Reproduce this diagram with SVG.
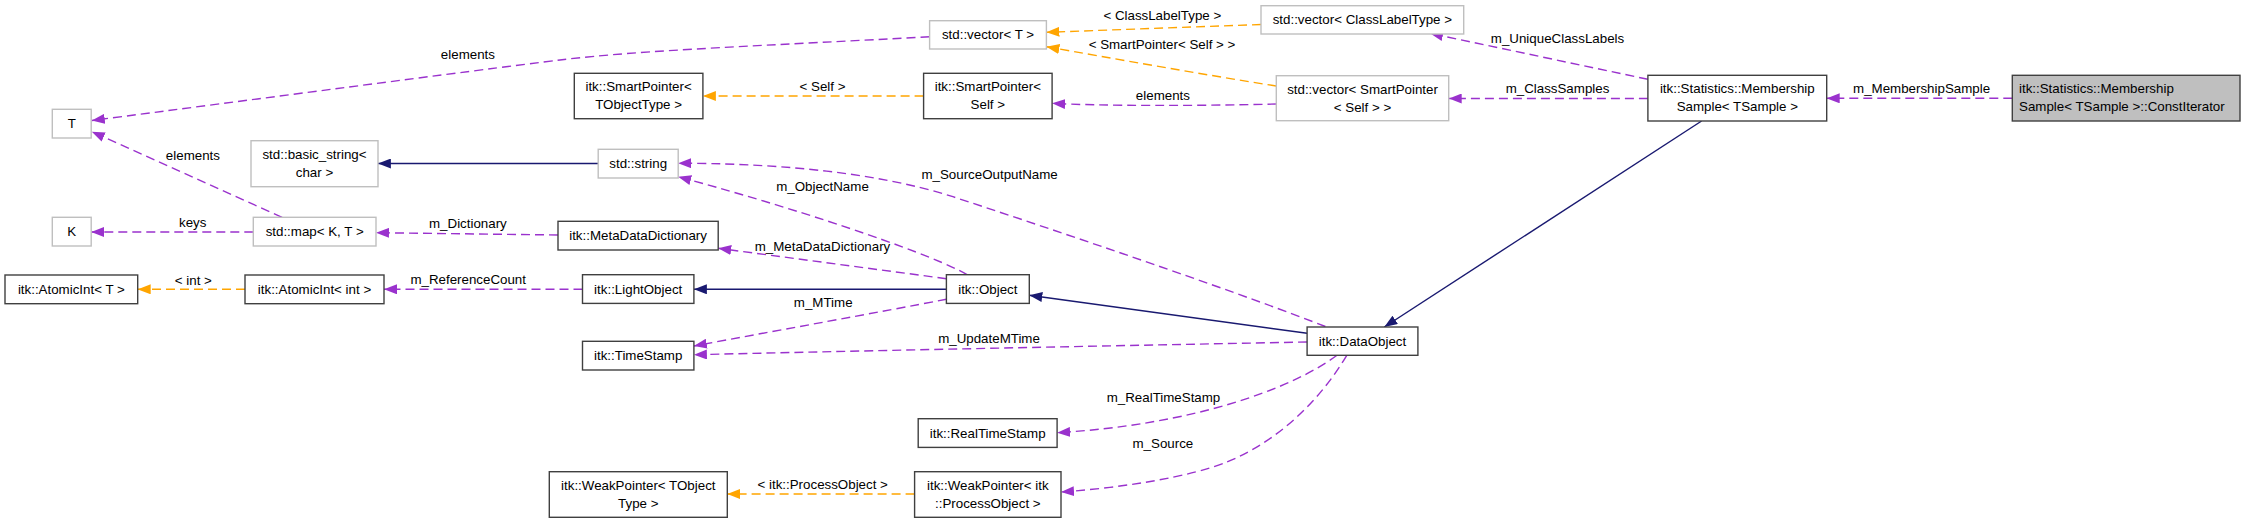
<svg xmlns="http://www.w3.org/2000/svg" width="2245" height="523" viewBox="0 0 2245 523">
<defs>
<style>
text { font-family: "Liberation Sans", Arial, Helvetica, sans-serif; font-size: 13.33px; fill: #000; }
.c { text-anchor: middle; }
.l { text-anchor: start; }
.doc { fill: #fff; stroke: #404040; stroke-width: 1.4; }
.undoc { fill: #fff; stroke: #bfbfbf; stroke-width: 1.4; }
.root { fill: #bfbfbf; stroke: #404040; stroke-width: 1.4; }
.use { fill: none; stroke: #9a32cd; stroke-width: 1.4; stroke-dasharray: 9,5; marker-end: url(#aU); }
.tpl { fill: none; stroke: #ffa500; stroke-width: 1.4; stroke-dasharray: 9,5; marker-end: url(#aT); }
.inh { fill: none; stroke: #191970; stroke-width: 1.4; marker-end: url(#aI); }
</style>
<marker id="aU" markerUnits="userSpaceOnUse" viewBox="0 0 13 10" refX="13" refY="5" markerWidth="13" markerHeight="10" orient="auto"><path d="M0,0 L13,5 L0,10 Z" fill="#9a32cd"/></marker>
<marker id="aT" markerUnits="userSpaceOnUse" viewBox="0 0 13 10" refX="13" refY="5" markerWidth="13" markerHeight="10" orient="auto"><path d="M0,0 L13,5 L0,10 Z" fill="#ffa500"/></marker>
<marker id="aI" markerUnits="userSpaceOnUse" viewBox="0 0 13 10" refX="13" refY="5" markerWidth="13" markerHeight="10" orient="auto"><path d="M0,0 L13,5 L0,10 Z" fill="#191970"/></marker>
</defs>
<rect x="0" y="0" width="2245" height="523" fill="#fff"/>

<g id="connectors">
  <path class="use" d="M929.6,36.7 C780,45 640,50 560,60 C470,71 250,100 91.8,120.5"/>
  <text class="c" x="467.9" y="58.8">elements</text>

  <path class="use" d="M282.1,217.3 L91.8,131.7"/>
  <text class="c" x="192.9" y="160.2">elements</text>

  <path class="use" d="M253.3,232 L91.2,232"/>
  <text class="c" x="192.7" y="227.2">keys</text>

  <path class="inh" d="M598.2,163.5 L377.9,163.5"/>

  <path class="use" d="M558,235 L376,232.7"/>
  <text class="c" x="467.9" y="227.8">m_Dictionary</text>

  <path class="tpl" d="M1261,24.5 L1046.4,32.3"/>
  <text class="c" x="1162.3" y="20.2">&lt; ClassLabelType &gt;</text>

  <path class="tpl" d="M1276.3,86 C1200,74 1110,58 1046.4,46.7"/>
  <text class="c" x="1162" y="48.8">&lt; SmartPointer&lt; Self &gt; &gt;</text>

  <path class="tpl" d="M923.6,96 L702.9,96"/>
  <text class="c" x="822.5" y="91.2">&lt; Self &gt;</text>

  <path class="use" d="M1276.3,104 C1200,106 1100,106 1052.1,103.3"/>
  <text class="c" x="1162.9" y="100.2">elements</text>

  <path class="use" d="M1647.9,79.3 L1430,33.3"/>
  <text class="c" x="1557.5" y="43.2">m_UniqueClassLabels</text>

  <path class="use" d="M1647.9,98.5 L1448.7,98.5"/>
  <text class="c" x="1557.5" y="93.2">m_ClassSamples</text>

  <path class="use" d="M2012.3,98.3 L1826.7,98.3"/>
  <text class="c" x="1921.6" y="93.2">m_MembershipSample</text>

  <path class="inh" d="M1701.6,121 L1384.3,327"/>

  <path class="inh" d="M1307.1,333.3 L1029.3,295.3"/>

  <path class="inh" d="M946.4,289.3 L693.9,289.3"/>

  <path class="use" d="M582.5,289.3 L384,289.3"/>
  <text class="c" x="468.2" y="283.8">m_ReferenceCount</text>

  <path class="tpl" d="M245,289.3 L137.7,289.3"/>
  <text class="c" x="193.3" y="284.5">&lt; int &gt;</text>

  <path class="use" d="M967,274.7 C940,258 820,215 678.2,176.7"/>
  <text class="c" x="822.5" y="191.2">m_ObjectName</text>

  <path class="use" d="M946.4,278.7 L718.2,248.3"/>
  <text class="c" x="822.5" y="251.2">m_MetaDataDictionary</text>

  <path class="use" d="M1325.4,326.5 C1250,297 1100,245 952.9,196.7 C870,170 760,163 678.2,163.3"/>
  <text class="c" x="989.6" y="179.2">m_SourceOutputName</text>

  <path class="use" d="M946.4,299.3 C880,312 780,330 693.9,346"/>
  <text class="c" x="823.2" y="307.2">m_MTime</text>

  <path class="use" d="M1307.1,342 C1100,346 900,350 693.9,354.7"/>
  <text class="c" x="989" y="343.2">m_UpdateMTime</text>

  <path class="use" d="M1337,355.3 C1290,390 1190,425 1057.1,432.7"/>
  <text class="c" x="1163.5" y="401.5">m_RealTimeStamp</text>

  <path class="use" d="M1346.8,355.3 C1320,400 1280,440 1227,462 C1190,477 1120,488 1061,492"/>
  <text class="c" x="1162.9" y="448.2">m_Source</text>

  <path class="tpl" d="M914.6,494 L727.3,494"/>
  <text class="c" x="822.7" y="488.8">&lt; itk::ProcessObject &gt;</text>
</g>

<g id="n_T"><rect class="undoc" x="52.3" y="109.3" width="38.9" height="28.7"/><text class="c" x="71.75" y="128.25">T</text></g>
<g id="n_K"><rect class="undoc" x="52.3" y="217.3" width="38.9" height="28.7"/><text class="c" x="71.75" y="236.25">K</text></g>
<g id="n_basic_string"><rect class="undoc" x="251" y="140.7" width="127" height="46"/><text class="c" x="314.5" y="158.9">std::basic_string&lt;</text><text class="c" x="314.5" y="176.9">char &gt;</text></g>
<g id="n_map"><rect class="undoc" x="253.3" y="217.3" width="122.7" height="28.7"/><text class="c" x="314.65" y="236.25">std::map&lt; K, T &gt;</text></g>
<g id="n_atomicT"><rect class="doc" x="5" y="275" width="132.7" height="28.7"/><text class="c" x="71.35" y="293.95">itk::AtomicInt&lt; T &gt;</text></g>
<g id="n_atomicInt"><rect class="doc" x="245" y="275" width="139" height="28.7"/><text class="c" x="314.5" y="293.95">itk::AtomicInt&lt; int &gt;</text></g>
<g id="n_vectorT"><rect class="undoc" x="929.6" y="20.7" width="116.8" height="28.3"/><text class="c" x="988" y="39.45">std::vector&lt; T &gt;</text></g>
<g id="n_spTObjectType"><rect class="doc" x="574.3" y="73.3" width="128.6" height="45.4"/><text class="c" x="638.6" y="91.3">itk::SmartPointer&lt;</text><text class="c" x="638.6" y="109.3">TObjectType &gt;</text></g>
<g id="n_spSelf"><rect class="doc" x="923.6" y="73.3" width="128.5" height="45.4"/><text class="c" x="987.85" y="91.3">itk::SmartPointer&lt;</text><text class="c" x="987.85" y="109.3">Self &gt;</text></g>
<g id="n_string"><rect class="undoc" x="598.2" y="149.3" width="80" height="28.7"/><text class="c" x="638.2" y="168.25">std::string</text></g>
<g id="n_metadatadict"><rect class="doc" x="558" y="221.3" width="160.2" height="28.7"/><text class="c" x="638.1" y="240.25">itk::MetaDataDictionary</text></g>
<g id="n_lightobject"><rect class="doc" x="582.5" y="274.7" width="111.4" height="28.7"/><text class="c" x="638.2" y="293.65">itk::LightObject</text></g>
<g id="n_object"><rect class="doc" x="946.4" y="274.7" width="82.9" height="28.7"/><text class="c" x="987.85" y="293.65">itk::Object</text></g>
<g id="n_timestamp"><rect class="doc" x="582.5" y="341.3" width="111.4" height="28.7"/><text class="c" x="638.2" y="360.25">itk::TimeStamp</text></g>
<g id="n_realtimestamp"><rect class="doc" x="918.2" y="418.7" width="138.9" height="28.7"/><text class="c" x="987.65" y="437.65">itk::RealTimeStamp</text></g>
<g id="n_wpTObjectType"><rect class="doc" x="549.3" y="471.7" width="178" height="45.6"/><text class="c" x="638.3" y="489.7">itk::WeakPointer&lt; TObject</text><text class="c" x="638.3" y="507.7">Type &gt;</text></g>
<g id="n_wpProcessObject"><rect class="doc" x="914.6" y="471.7" width="146.4" height="45.6"/><text class="c" x="987.8" y="489.7">itk::WeakPointer&lt; itk</text><text class="c" x="987.8" y="507.7">::ProcessObject &gt;</text></g>
<g id="n_vectorCLT"><rect class="undoc" x="1261" y="5.7" width="202.7" height="28.3"/><text class="c" x="1362.35" y="24.45">std::vector&lt; ClassLabelType &gt;</text></g>
<g id="n_vectorSP"><rect class="undoc" x="1276.3" y="75.7" width="172.4" height="45"/><text class="c" x="1362.5" y="93.7">std::vector&lt; SmartPointer</text><text class="c" x="1362.5" y="111.7">&lt; Self &gt; &gt;</text></g>
<g id="n_dataobject"><rect class="doc" x="1307.1" y="327" width="110.8" height="28.3"/><text class="c" x="1362.5" y="345.75">itk::DataObject</text></g>
<g id="n_membershipsample"><rect class="doc" x="1647.9" y="75.3" width="178.8" height="45.7"/><text class="c" x="1737.3" y="93.3">itk::Statistics::Membership</text><text class="c" x="1737.3" y="111.3">Sample&lt; TSample &gt;</text></g>
<g id="n_constiterator"><rect class="root" x="2012.3" y="75.3" width="227.7" height="45.7"/><text class="l" x="2019" y="93.3">itk::Statistics::Membership</text><text class="l" x="2019" y="111.3">Sample&lt; TSample &gt;::ConstIterator</text></g>
</svg>
